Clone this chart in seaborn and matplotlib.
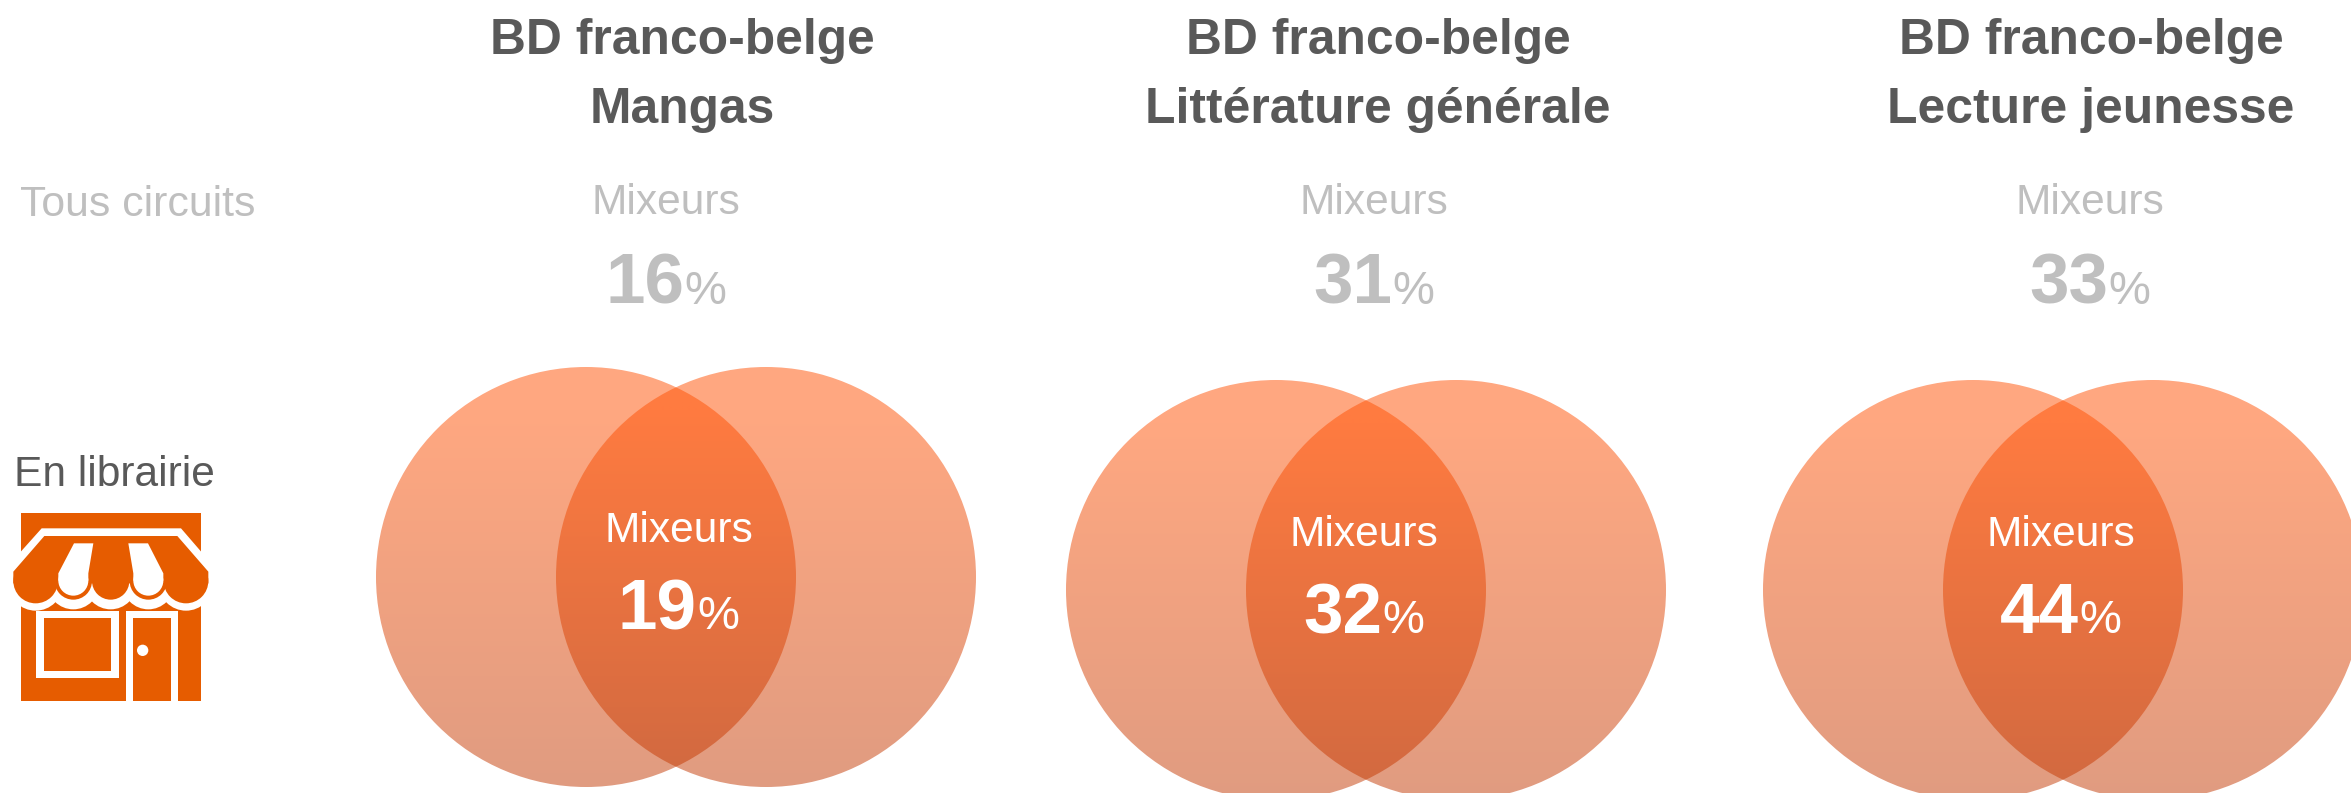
import numpy as np
import matplotlib

matplotlib.use('Agg')
import matplotlib.pyplot as plt
from matplotlib.patches import Circle, Polygon, Rectangle
import seaborn as sns

title_top = ['BD franco-belge', 'BD franco-belge', 'BD franco-belge']
title_bottom = ['Mangas', 'Littérature générale', 'Lecture jeunesse']
tous_circuits = [16, 31, 33]
en_librairie = [19, 32, 44]

sns.set_theme(style='white')
plt.rcParams['font.family'] = ['Liberation Sans', 'DejaVu Sans']

DARK = '#595959'
LIGHT = '#BFBFBF'
ICON = '#E65C00'

title_x = [682, 1378, 2091]
tous_x = [666, 1374, 2090]
venn_left = [586, 1276, 1973]
venn_y = [577, 590, 590]
lib_x = [679, 1364, 2061]
lib_label_y = [527, 530, 530]
lib_value_y = [629, 633, 633]
RADIUS = 210
GAP = 180

fig = plt.figure(figsize=(23.51, 7.93), dpi=100)
ax = fig.add_axes([0, 0, 1, 1])
ax.set_xlim(0, 2351)
ax.set_ylim(793, 0)
ax.axis('off')

# gradient going through two half transparent discs gives the darker overlap
shades = np.array(sns.blend_palette(['#FF4F00', '#C13700'], n_colors=230))
shades = np.vstack([np.tile(shades[0], (26, 1)), shades])[:, None, :]


def disc(cx, cy):
    im = ax.imshow(shades, extent=(cx - RADIUS, cx + RADIUS, cy + RADIUS, cy - RADIUS),
                   origin='upper', alpha=0.5, aspect='auto', interpolation='bilinear', zorder=1)
    im.set_clip_path(Circle((cx, cy), RADIUS, transform=ax.transData))


def percent(x, y, value, color, big=51, small=34):
    # number and % sit on one baseline, the joint is right of the label centre
    ax.text(x + 18, y, str(value), ha='right', va='baseline', color=color,
            fontsize=big, fontweight='bold', zorder=3)
    ax.text(x + 18, y, '%', ha='left', va='baseline', color=color, fontsize=small, zorder=3)


for i in range(3):
    ax.text(title_x[i], 54, title_top[i], ha='center', va='baseline', color=DARK,
            fontsize=35.8, fontweight='bold')
    ax.text(title_x[i], 123, title_bottom[i], ha='center', va='baseline', color=DARK,
            fontsize=35.8, fontweight='bold')
    ax.text(tous_x[i], 214, 'Mixeurs', ha='center', va='baseline', color=LIGHT, fontsize=30.6)
    percent(tous_x[i], 304, tous_circuits[i], LIGHT)

    disc(venn_left[i], venn_y[i])
    disc(venn_left[i] + GAP, venn_y[i])
    ax.text(lib_x[i], lib_label_y[i], 'Mixeurs', ha='center', va='center_baseline', color='white',
            fontsize=30.6, zorder=3)
    percent(lib_x[i], lib_value_y[i], en_librairie[i], 'white')

ax.text(20, 216, 'Tous circuits', ha='left', va='baseline', color=LIGHT, fontsize=30.8)
ax.text(14, 486, 'En librairie', ha='left', va='baseline', color=DARK, fontsize=30.6)


# shop icon, drawn on a 3x grid of its own
def ix(v):
    return v / 3


def iy(v):
    return 440 + v / 3


def poly(points, color, z):
    ax.add_patch(Polygon([(ix(a), iy(b)) for a, b in points], closed=True, fc=color, ec='none', zorder=z))


def rect(x0, y0, x1, y1, color, z):
    ax.add_patch(Rectangle((ix(x0), iy(y0)), (x1 - x0) / 3, (y1 - y0) / 3, fc=color, ec='none', zorder=z))


def dot(x, y, r, color, z):
    ax.add_patch(Circle((ix(x), iy(y)), r / 3, fc=color, ec='none', zorder=z))


rect(63, 220, 603, 782, ICON, 2)
poly([(125, 265), (543, 265), (625, 360), (625, 420), (40, 420), (40, 360)], 'white', 3)
for x, r in [(107, 60), (220, 56), (332, 56), (445, 56), (558, 60)]:
    dot(x, 430, r + 22, 'white', 3)
poly([(133, 288), (532, 288), (625, 395), (625, 430), (40, 430), (40, 395)], ICON, 4)
for x, r in [(107, 67), (220, 56), (332, 56), (445, 56), (558, 67)]:
    dot(x, 423, r, ICON, 4)
poly([(222, 310), (280, 310), (265, 400), (265, 422), (175, 422), (175, 400)], 'white', 5)
dot(220, 422, 45, 'white', 5)
poly([(385, 310), (444, 310), (490, 400), (490, 422), (400, 422), (400, 400)], 'white', 5)
dot(445, 422, 45, 'white', 5)
rect(108, 512, 356, 715, 'white', 5)
rect(131, 535, 333, 692, ICON, 6)
rect(378, 512, 535, 782, 'white', 5)
rect(400, 535, 513, 782, ICON, 6)
dot(428, 631, 17, 'white', 7)

plt.savefig('out.png', dpi=100)
